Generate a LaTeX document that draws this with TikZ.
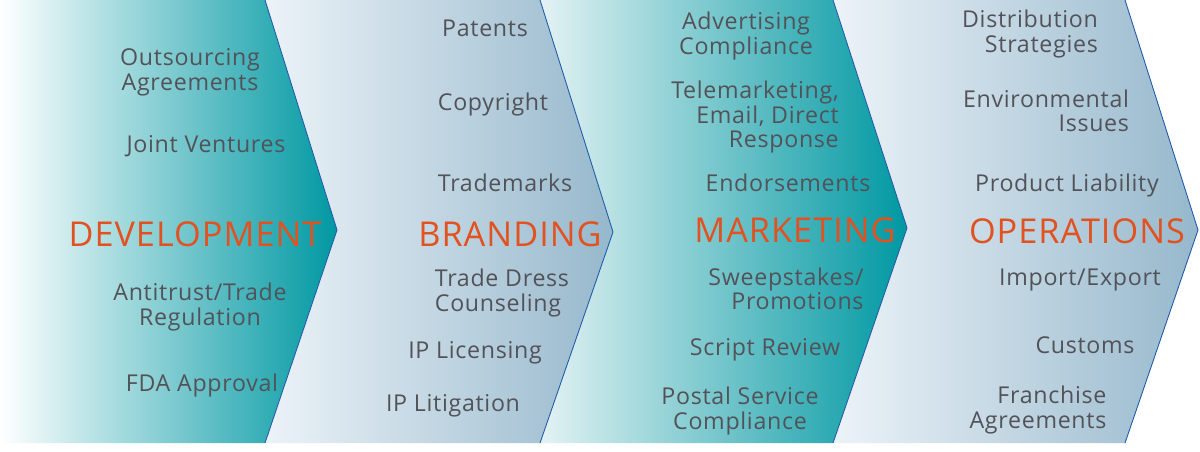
\documentclass[tikz,border=0pt]{standalone}
\usepackage{fontspec}
\setmainfont{Open Sans}[LetterSpace=3]
\definecolor{teal1}{RGB}{0,152,162}
\definecolor{steel}{RGB}{150,184,204}
\definecolor{pale}{RGB}{236,243,248}
\definecolor{palet}{RGB}{228,242,243}
\definecolor{txt}{RGB}{82,82,88}
\definecolor{head}{RGB}{226,82,32}
\definecolor{edge}{RGB}{30,90,170}
\begin{document}
\begin{tikzpicture}[x=0.02cm,y=-0.02cm,
  item/.style={text=txt,font=\fontsize{13.2}{14}\selectfont,inner sep=0pt,align=center},
  itemr/.style={item,align=right},
  heading/.style={text=head,font=\fontsize{19.5}{21}\selectfont,inner sep=0pt}]
\useasboundingbox (0,0) rectangle (1200,452);
\fill[white] (0,0) rectangle (1200,452);
\shade[left color=white,right color=teal1] (0,0) -- (265,0) -- (337,230) -- (265,443) -- (0,443) -- cycle;
\shade[left color=pale,right color=steel] (265,0) -- (540,0) -- (613,232) -- (540,443) -- (265,443) -- (337,230) -- cycle;
\shade[left color=palet,right color=teal1] (540,0) -- (833,0) -- (907,228) -- (833,443) -- (540,443) -- (613,232) -- cycle;
\shade[left color=pale,right color=steel] (833,0) -- (1125,0) -- (1198,230) -- (1125,443) -- (833,443) -- (907,228) -- cycle;
\draw[edge,line width=0.5pt] (265,0) -- (337,230) -- (265,443);
\draw[edge,line width=0.5pt] (540,0) -- (613,232) -- (540,443);
\draw[edge,line width=0.5pt] (833,0) -- (907,228) -- (833,443);
\draw[edge,line width=0.5pt] (1125,0) -- (1198,230) -- (1125,443);
% Development
\node[item] (a1) at (190,72) {Outsourcing\\Agreements};
\node[item] (a2) at (206,146) {Joint Ventures};
\node[heading] (a0) at (195,234) {DEVELOPMENT};
\node[item] (a3) at (200,307) {Antitrust/Trade\\Regulation};
\node[item] (a4) at (202,385) {FDA Approval};
% Branding
\node[item] (b1) at (485,28) {Patents};
\node[item] (b2) at (493,104) {Copyright};
\node[item] (b3) at (505,183) {Trademarks};
\node[heading] (b0) at (510,234) {BRANDING};
\node[item,align=left] (b4) at (502,293) {Trade Dress\\Counseling};
\node[item] (b5) at (475,353) {IP Licensing};
\node[item] (b6) at (453,406) {IP Litigation};
% Marketing
\node[item] (c1) at (746,36) {Advertising\\Compliance};
\node[itemr] (c2) at (755,117) {Telemarketing,\\Email, Direct\\Response};
\node[item] (c3) at (788,183) {Endorsements};
\node[heading] (c0) at (795,230) {MARKETING};
\node[itemr] (c4) at (786,289) {Sweepstakes/\\Promotions};
\node[item] (c5) at (765,350) {Script Review};
\node[item] (c6) at (740,411) {Postal Service\\Compliance};
% Operations
\node[itemr] (d1) at (1030,34) {Distribution\\Strategies};
\node[itemr] (d2) at (1046,111) {Environmental\\Issues};
\node[item] (d3) at (1067,185) {Product Liability};
\node[heading] (d0) at (1077,231) {OPERATIONS};
\node[item] (d4) at (1080,280) {Import/Export};
\node[item] (d5) at (1085,345) {Customs};
\node[itemr] (d6) at (1038,410) {Franchise\\Agreements};
\end{tikzpicture}
\end{document}
